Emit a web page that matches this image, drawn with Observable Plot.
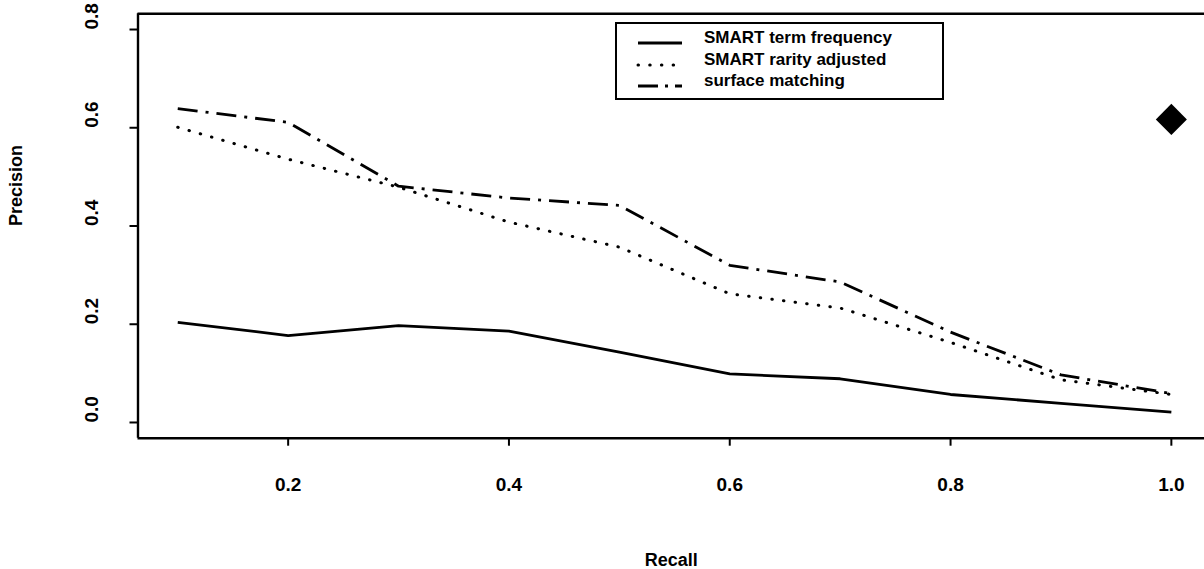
<!DOCTYPE html>
<html>
<head>
<meta charset="utf-8">
<script src="https://cdn.jsdelivr.net/npm/d3@7"></script>
<script src="https://cdn.jsdelivr.net/npm/@observablehq/plot@0.6"></script>
<style>
  html, body { margin: 0; padding: 0; background: #fff; }
  #chart { position: relative; width: 1204px; height: 569px; overflow: hidden; }
  #chart svg { font-family: "Liberation Sans", Arial, Helvetica, sans-serif; font-weight: bold; }
  #legend { position: absolute; left: 0; top: 0; }
</style>
</head>
<body>
<div id="chart"></div>
<script>
// ---- data ----
const recall = [0.1, 0.2, 0.3, 0.4, 0.5, 0.6, 0.7, 0.8, 0.9, 1.0];
const smartTermFrequency = [0.204, 0.177, 0.197, 0.186, 0.143, 0.099, 0.089, 0.057, 0.039, 0.021];
const smartRarityAdjusted = [0.601, 0.536, 0.479, 0.408, 0.357, 0.262, 0.233, 0.163, 0.087, 0.057];
const surfaceMatching = [0.639, 0.611, 0.481, 0.457, 0.442, 0.320, 0.286, 0.184, 0.097, 0.059];
const seriesNames = ["SMART term frequency", "SMART rarity adjusted", "surface matching"];
const markerX = [1.0];
const markerY = [0.617];
const xTicks = [0.2, 0.4, 0.6, 0.8, 1.0];
const yTicks = [0.0, 0.2, 0.4, 0.6, 0.8];
const xLabel = "Recall";
const yLabel = "Precision";

// ---- styles per series ----
const styles = [
  {strokeWidth: 2.8, strokeDasharray: null, strokeLinecap: "butt"},
  {strokeWidth: 3, strokeDasharray: "0.5,11.2", strokeLinecap: "round"},
  {strokeWidth: 2.8, strokeDasharray: "20,8,3,8", strokeLinecap: "butt"}
];
const seriesValues = [smartTermFrequency, smartRarityAdjusted, surfaceMatching];
const rows = seriesValues.map(vals => recall.map((r, i) => ({recall: r, precision: vals[i]})));

const xDomain = [0.064, 1.036];
const yDomain = [-0.032, 0.832];

const W = 1204, H = 569;
const mL = 137.5, mT = 13.3, mB = 131.3;

const plot = Plot.plot({
  width: W,
  height: H,
  marginLeft: mL,
  marginRight: 0,
  marginTop: mT,
  marginBottom: mB,
  style: {background: "#fff", color: "#000", fontFamily: "'Liberation Sans', Arial, sans-serif", fontWeight: "bold"},
  x: {domain: xDomain, range: [mL, 1210.6]},
  y: {domain: yDomain},
  marks: [
    // box
    Plot.ruleY([yDomain[0], yDomain[1]], {x1: xDomain[0], x2: xDomain[1], stroke: "#000", strokeWidth: 2.4}),
    Plot.ruleX([xDomain[0], xDomain[1]], {y1: yDomain[0], y2: yDomain[1], stroke: "#000", strokeWidth: 2.4}),
    // ticks
    Plot.axisX({ticks: xTicks, tickSize: 8, tickFormat: () => "", strokeWidth: 2, label: null}),
    Plot.axisY({ticks: yTicks, tickSize: 8, tickFormat: () => "", strokeWidth: 2, label: null}),
    Plot.text(xTicks, {x: d => d, frameAnchor: "bottom", dy: 47, text: d => d.toFixed(1), fontSize: 19, fontWeight: "bold", fill: "#000", lineAnchor: "middle"}),
    Plot.text(yTicks, {y: d => d, frameAnchor: "left", dx: -46, rotate: -90, text: d => d.toFixed(1), fontSize: 19, fontWeight: "bold", fill: "#000", lineAnchor: "middle"}),
    Plot.text([xLabel], {frameAnchor: "bottom", dy: 122, text: d => d, fontSize: 18, fontWeight: "bold", fill: "#000", lineAnchor: "middle"}),
    Plot.text([yLabel], {frameAnchor: "left", dx: -122, rotate: -90, text: d => d, fontSize: 18, fontWeight: "bold", fill: "#000", lineAnchor: "middle"}),
    // series
    ...rows.map((data, i) => Plot.line(data, {
      x: "recall", y: "precision", stroke: "#000",
      strokeWidth: styles[i].strokeWidth,
      strokeDasharray: styles[i].strokeDasharray,
      strokeLinecap: styles[i].strokeLinecap,
      strokeLinejoin: "round"
    })),
    // diamond marker
    Plot.dot(markerX.map((x, i) => ({x, y: markerY[i]})), {x: "x", y: "y", symbol: "diamond2", r: 14, fill: "#000", stroke: "none"})
  ]
});
document.getElementById("chart").appendChild(plot);

// ---- legend (overlay) ----
const leg = d3.select("#chart").append("svg")
  .attr("id", "legend").attr("width", W).attr("height", H);
leg.append("rect")
  .attr("x", 616).attr("y", 23).attr("width", 327).attr("height", 76)
  .attr("fill", "#fff").attr("stroke", "#000").attr("stroke-width", 2);
const rowY = [43, 65, 86];
seriesNames.forEach((name, i) => {
  leg.append("line")
    .attr("x1", 638).attr("x2", 682).attr("y1", rowY[i]).attr("y2", rowY[i])
    .attr("stroke", "#000").attr("stroke-width", styles[i].strokeWidth)
    .attr("stroke-dasharray", i === 1 ? "0.5,11.2" : (i === 2 ? "20,7,3,7" : null))
    .attr("stroke-linecap", styles[i].strokeLinecap);
  leg.append("text")
    .attr("x", 704).attr("y", rowY[i])
    .attr("font-size", 17).attr("font-weight", "bold")
    .attr("fill", "#000")
    .text(name);
});
</script>
</body>
</html>
